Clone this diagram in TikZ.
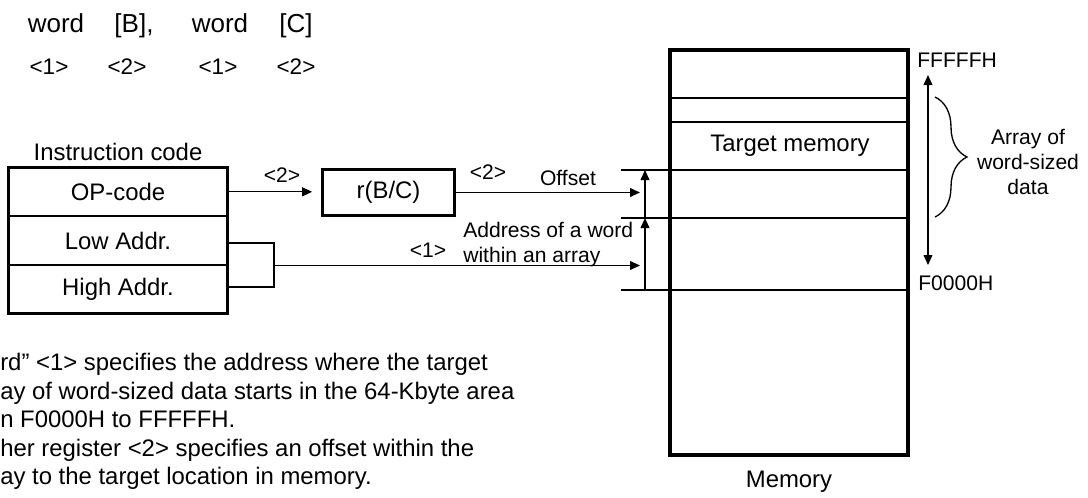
\documentclass[tikz,border=0pt]{standalone}
\usepackage{fontspec}
\setmainfont{Liberation Sans}
\usepackage{tikz}
\usetikzlibrary{arrows.meta,positioning,calc,decorations.pathreplacing}

\newcommand\bigfont{\fontsize{17}{20.3}\selectfont}
\newcommand\smallfont{\fontsize{15}{17.8}\selectfont}
\newcommand\topfont{\fontsize{18.5}{21}\selectfont}

\tikzset{
  cell/.style={minimum width=54.5mm,minimum height=12.17mm,inner sep=0pt,outer sep=0pt,font=\bigfont},
  txt/.style={font=\bigfont,inner sep=0pt},
  lbl/.style={font=\smallfont,inner sep=0pt},
  thinline/.style={line width=0.33mm},
  rowline/.style={line width=0.5mm},
  arr/.style={thinline,-{Triangle[length=2.5mm,width=2.2mm]}},
}

\begin{document}
\begin{tikzpicture}[x=0.25mm,y=-0.25mm]
  \useasboundingbox (0,0) rectangle (1088,497);

  % operand line
  \node[txt,font=\topfont,anchor=base] (w1) at (56,32) {word};
  \node[txt,font=\topfont,anchor=base] (opb) at (134,32) {[B],};
  \node[txt,font=\topfont,anchor=base] (w2) at (220,32) {word};
  \node[txt,font=\topfont,anchor=base] (opc) at (296,32) {[C]};
  \node[lbl,font=\fontsize{16}{19}\selectfont,anchor=base] (n1) at (49,74) {<1>};
  \node[lbl,font=\fontsize{16}{19}\selectfont,anchor=base] (n2) at (127,74) {<2>};
  \node[lbl,font=\fontsize{16}{19}\selectfont,anchor=base] (n3) at (218,74) {<1>};
  \node[lbl,font=\fontsize{16}{19}\selectfont,anchor=base] (n4) at (296,74) {<2>};

  % instruction code
  \node[txt] (title) at (118,152) {Instruction code};
  \node[cell] (op) at (118,191.8) {OP-code};
  \node[cell,below=0pt of op] (lo) {Low Addr.};
  \node[cell,below=0pt of lo] (hi) {High Addr.};
  \draw[rowline] (op.south west) -- (op.south east);
  \draw[rowline] (lo.south west) -- (lo.south east);
  \draw[line width=0.75mm] (op.north west) rectangle (hi.south east);

  % register
  \node[draw,line width=0.75mm,minimum width=33mm,minimum height=11.5mm,font=\bigfont] (reg) at (388.5,192.5) {r(B/C)};
  \draw[arr,shorten >=2.2mm] (op.east) -- (op.east -| reg.west);
  \node[lbl] (lab2a) at (282,175) {<2>};

  % memory
  \node[draw,line width=1mm,minimum width=59.5mm,minimum height=101.25mm,outer sep=0pt] (mem) at (789,252.5) {};
  \foreach \y in {98,122}
    \draw[rowline] (mem.west |- 0,\y) -- (mem.east |- 0,\y);
  \foreach \y/\n in {170/ta,218/tb,290/tc}
    \draw[rowline] (621,\y) coordinate (\n) -- (mem.east |- 0,\y);
  \node[txt] (tgt) at (790,146) {Target memory};
  \node[txt] (memlbl) at (789,482) {Memory};

  % offset and address
  \coordinate (da) at (645,170);
  \coordinate (db) at (645,218);
  \coordinate (dc) at (645,290);
  \draw[arr] (dc) -- (db);
  \draw[arr] (db) -- (da);
  \coordinate (offtip) at (640,192.5);
  \draw[arr] (reg.east) -- (offtip);
  \node[lbl] (lab2b) at (488,172) {<2>};
  \node[lbl] (off) at (568,178) {Offset};

  \coordinate (brtop) at (274,243);
  \coordinate (brbot) at (274,287);
  \coordinate (brmid) at (274,265.5);
  \coordinate (addrtip) at (640,265.5);
  \draw[thinline] (lo.east |- brtop) -- (brtop) -- (brbot) -- (hi.east |- brbot);
  \draw[arr] (brmid) -- (addrtip);
  \node[lbl] (lab1) at (428,250) {<1>};
  \node[lbl,anchor=west,align=left] (addr) at (463,244.5) {Address of a word\\within an array};

  % range of the 64-Kbyte area
  \node[lbl,anchor=west] (ftop) at (917,60) {FFFFFH};
  \node[lbl,anchor=west] (fbot) at (918,283) {F0000H};
  \coordinate (rtop) at (928,75);
  \coordinate (rbot) at (928,265);
  \draw[thinline,{Triangle[length=2.5mm,width=2.2mm]}-{Triangle[length=2.5mm,width=2.2mm]}] (rtop) -- (rbot);
  \coordinate (bra) at (935,97);
  \coordinate (brb) at (935,217);
  \draw[thinline,decorate,decoration={brace,amplitude=8mm}] (bra) -- (brb);
  \node[lbl,align=center] (arrlbl) at (1028,162) {Array of\\word-sized\\data};

  % note
  \node[txt,anchor=west,align=left] (note) at (0,421.5) {rd” <1> specifies the address where the target\\ay of word-sized data starts in the 64-Kbyte area\\n F0000H to FFFFFH.\\her register <2> specifies an offset within the\\ay to the target location in memory.};
\end{tikzpicture}
\end{document}
